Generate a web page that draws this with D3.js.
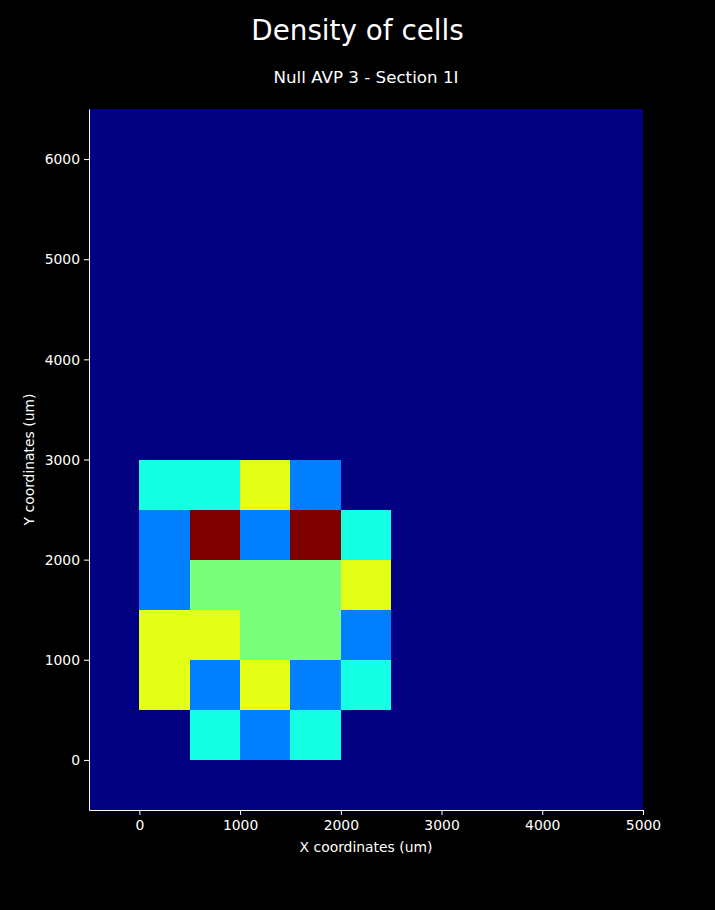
<!DOCTYPE html>
<html><head><meta charset="utf-8">
<script src="https://cdn.jsdelivr.net/npm/d3@7"></script>
<style>body{margin:0;background:#000}svg{display:block}text{font-family:"DejaVu Sans",sans-serif;fill:#fff}</style>
</head><body>
<script>
const xBins = [0, 500, 1000, 1500, 2000];
const yBins = [2500, 2000, 1500, 1000, 500, 0];
const counts = [
  [3, 3, 5, 2, 0],
  [2, 8, 2, 8, 3],
  [2, 4, 4, 4, 5],
  [5, 5, 4, 4, 2],
  [5, 2, 5, 2, 3],
  [0, 3, 2, 3, 0]
];
const binSize = 500;
const xTicks = [0, 1000, 2000, 3000, 4000, 5000];
const yTicks = [0, 1000, 2000, 3000, 4000, 5000, 6000];
const maxCount = 8;

function jet(t) {
  const seg = (pts) => {
    for (let i = 0; i < pts.length - 1; i++) {
      const [x0, y0] = pts[i], [x1, y1] = pts[i + 1];
      if (t >= x0 && t <= x1) return y0 + (y1 - y0) * (t - x0) / (x1 - x0);
    }
    return pts[pts.length - 1][1];
  };
  const r = seg([[0,0],[0.35,0],[0.66,1],[0.89,1],[1,0.5]]);
  const g = seg([[0,0],[0.125,0],[0.375,1],[0.64,1],[0.91,0],[1,0]]);
  const b = seg([[0,0.5],[0.11,1],[0.34,1],[0.65,0],[1,0]]);
  return d3.rgb(r * 255, g * 255, b * 255).toString();
}

const W = 715, H = 910;
const m = {left: 89, right: 643, top: 109, bottom: 810};
const svg = d3.select("body").append("svg").attr("width", W).attr("height", H);
svg.append("rect").attr("width", W).attr("height", H).attr("fill", "#000");

const x = d3.scaleLinear().domain([-500, 5000]).range([m.left, m.right]);
const y = d3.scaleLinear().domain([-500, 6500]).range([m.bottom, m.top]);

svg.append("rect").attr("x", m.left).attr("y", m.top)
  .attr("width", m.right - m.left).attr("height", m.bottom - m.top)
  .attr("fill", jet(0));

const cells = [];
yBins.forEach((yv, i) => xBins.forEach((xv, j) => cells.push({x: xv, y: yv, v: counts[i][j]})));
svg.append("g").selectAll("rect").data(cells).join("rect")
  .attr("x", d => x(d.x))
  .attr("y", d => y(d.y + binSize))
  .attr("width", d => x(d.x + binSize) - x(d.x))
  .attr("height", d => y(d.y) - y(d.y + binSize))
  .attr("fill", d => jet(d.v / maxCount))
  .attr("shape-rendering", "crispEdges");

const xAxis = svg.append("g").attr("transform", `translate(0,${m.bottom})`)
  .call(d3.axisBottom(x).tickValues(xTicks).tickFormat(d3.format("d")).tickSize(5).tickPadding(5.5).tickSizeOuter(0));
const yAxis = svg.append("g").attr("transform", `translate(${m.left},0)`)
  .call(d3.axisLeft(y).tickValues(yTicks).tickFormat(d3.format("d")).tickSize(5).tickPadding(4).tickSizeOuter(0));
[xAxis, yAxis].forEach(a => {
  a.selectAll("path,line").attr("stroke", "#fff").attr("stroke-width", 1);
  a.selectAll("text").attr("fill", "#fff").attr("font-size", 13.9);
});
yAxis.selectAll("text").attr("dy", "0.34em");

svg.append("text").attr("x", W / 2).attr("y", 40).attr("text-anchor", "middle")
  .attr("font-size", 27.8).text("Density of cells");
svg.append("text").attr("x", (m.left + m.right) / 2).attr("y", 83).attr("text-anchor", "middle")
  .attr("font-size", 16.7).text("Null AVP 3 - Section 1I");
svg.append("text").attr("x", (m.left + m.right) / 2).attr("y", 851.5).attr("text-anchor", "middle")
  .attr("font-size", 13.9).text("X coordinates (um)");
svg.append("text").attr("transform", `translate(34,${(m.top + m.bottom) / 2}) rotate(-90)`)
  .attr("text-anchor", "middle").attr("font-size", 13.9).text("Y coordinates (um)");
</script>
</body></html>
